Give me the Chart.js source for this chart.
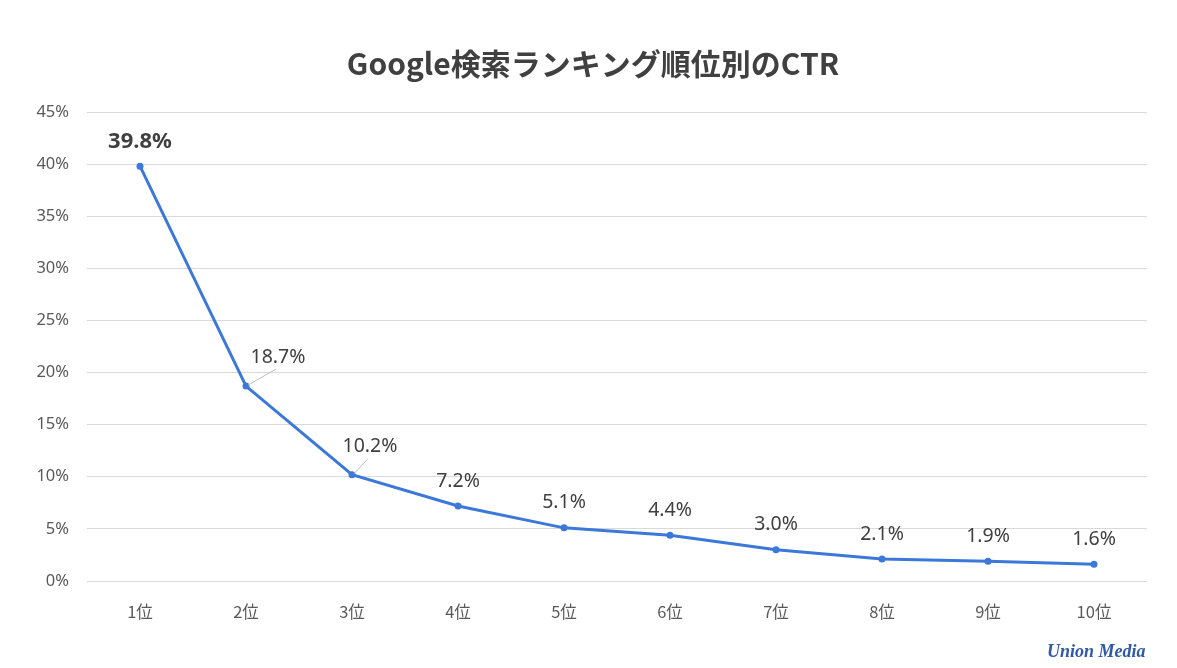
<!DOCTYPE html>
<html>
<head>
<meta charset="utf-8">
<script src="https://cdn.jsdelivr.net/npm/chart.js@4"></script>
<style>
  html, body { margin: 0; padding: 0; background: #fff; }
  .wrap { position: relative; width: 1177px; height: 668px; }
  .logo {
    position: absolute; left: 1047px; top: 641px;
    font: italic bold 18px "Liberation Serif", serif; color: #2f5aa8;
    white-space: nowrap;
  }
</style>
</head>
<body>
<div class="wrap">
  <canvas id="ctr-canvas" width="1177" height="668"></canvas>
  <div class="logo">Union Media</div>
</div>
<script>
// Google検索 CTR by ranking position
const chartTitle = 'Google検索ランキング順位別のCTR';
const ranks = ['1位', '2位', '3位', '4位', '5位', '6位', '7位', '8位', '9位', '10位'];
const ctrValues = [39.8, 18.7, 10.2, 7.2, 5.1, 4.4, 3.0, 2.1, 1.9, 1.6];
const yTicks = [0, 5, 10, 15, 20, 25, 30, 35, 40, 45];

const LABEL_FONT = '"Noto Sans", "Open Sans", sans-serif';

// data labels drawn above points; 2位 and 3位 pushed to the right with a leader line
const labelOffsets = [
  { dx: 0, dy: -24 }, { dx: 32, dy: -29 }, { dx: 18, dy: -28 },
];

const dataLabels = {
  id: 'dataLabels',
  afterDatasetsDraw(chart) {
    const ctx = chart.ctx;
    const meta = chart.getDatasetMeta(0);
    ctx.save();
    ctx.textAlign = 'center';
    ctx.textBaseline = 'middle';
    meta.data.forEach((pt, i) => {
      const off = labelOffsets[i] || { dx: 0, dy: -25 };
      const x = pt.x + off.dx, y = pt.y + off.dy;
      if (off.dx !== 0) {
        ctx.strokeStyle = '#bfbfbf';
        ctx.lineWidth = 1;
        ctx.beginPath();
        ctx.moveTo(pt.x + 2, pt.y - 1);
        ctx.lineTo(x - 2, y + 12);
        ctx.stroke();
      }
      ctx.fillStyle = '#404040';
      ctx.font = i === 0 ? `bold 22px ${LABEL_FONT}` : `19.5px ${LABEL_FONT}`;
      ctx.fillText(ctrValues[i].toFixed(1) + '%', x, y);
    });
    // title, centred a little right of the canvas middle like the original
    ctx.font = 'bold 30px "Noto Sans CJK JP", sans-serif';
    ctx.fillText(chartTitle, 593, 64);
    ctx.restore();
  }
};

new Chart(document.getElementById('ctr-canvas').getContext('2d'), {
  type: 'line',
  data: {
    labels: ranks,
    datasets: [{
      data: ctrValues,
      borderColor: '#3b78d8',
      backgroundColor: '#3b78d8',
      borderWidth: 3,
      pointRadius: 3.5,
      pointBorderWidth: 0,
      tension: 0,
      fill: false
    }]
  },
  options: {
    responsive: false,
    animation: false,
    layout: { padding: { left: 20, right: 30, top: 112, bottom: 0 } },
    plugins: {
      legend: { display: false },
      tooltip: { enabled: false },
      title: { display: false }
    },
    scales: {
      x: {
        offset: true,
        grid: { display: false },
        border: { display: false },
        ticks: { color: '#595959', font: { family: '"Noto Sans CJK JP", sans-serif', size: 16.5 }, padding: 13 },
        afterFit: (s) => { s.height = 87; }
      },
      y: {
        min: 0,
        max: 45,
        afterBuildTicks: (s) => { s.ticks = yTicks.map(v => ({ value: v })); },
        grid: { color: '#d9d9d9', drawTicks: false },
        border: { display: false },
        ticks: {
          color: '#595959',
          font: { family: LABEL_FONT, size: 16.5 },
          padding: 18,
          callback: (v) => v + '%'
        },
        afterFit: (s) => { s.width = 67; }
      }
    }
  },
  plugins: [dataLabels]
});
</script>
</body>
</html>
